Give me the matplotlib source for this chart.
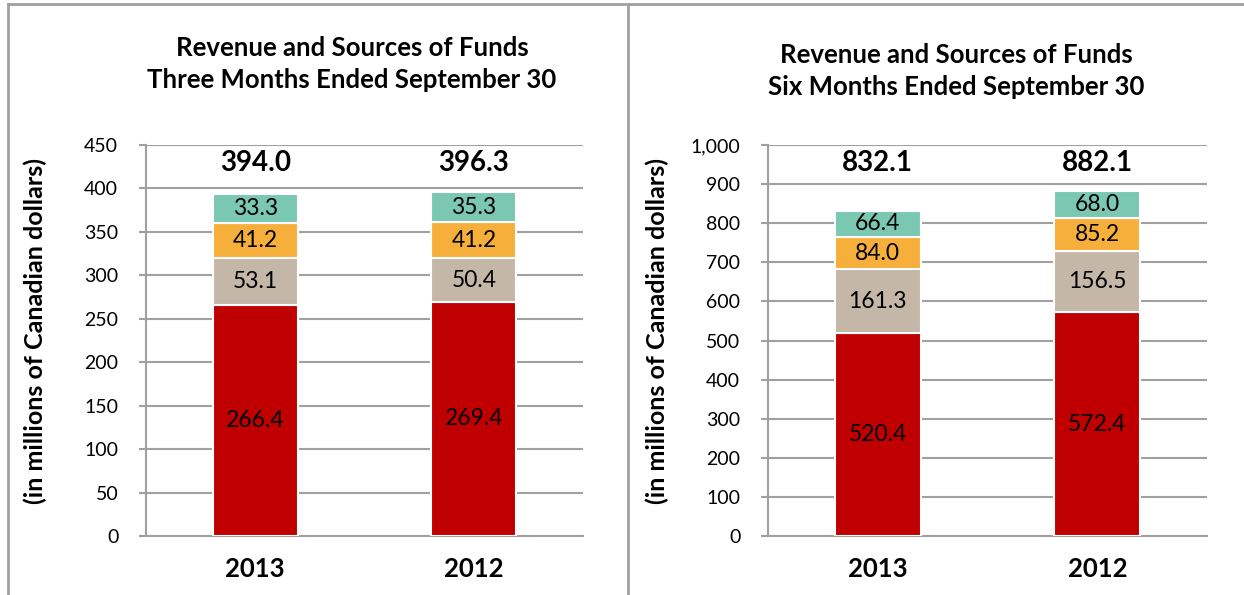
import numpy as np
import matplotlib.pyplot as plt
from matplotlib.lines import Line2D
from matplotlib.ticker import FuncFormatter

plt.rcParams['font.family'] = ['Lato', 'DejaVu Sans']

years = ['2013', '2012']
colors = ['#C00000', '#C4B7A8', '#F7AF3B', '#7BC8B2']

# segments bottom to top: red, tan, orange, teal
three_months = [[266.4, 53.1, 41.2, 33.3],
                [269.4, 50.4, 41.2, 35.3]]
three_totals = [394.0, 396.3]

six_months = [[520.4, 161.3, 84.0, 66.4],
              [572.4, 156.5, 85.2, 68.0]]
six_totals = [832.1, 882.1]

grid_col = '#A0A0A0'
W, H = 1244.0, 595.0


def draw_panel(ax, data, totals, ymax, step, title, title_xy, fmt):
    x = np.arange(len(years))
    data = np.array(data)
    bottom = np.zeros(len(years))
    for j in range(data.shape[1]):
        ax.bar(x, data[:, j], 0.39, bottom=bottom, color=colors[j],
               edgecolor='white', linewidth=1.5, zorder=3)
        for i in range(len(years)):
            ax.text(x[i], bottom[i] + data[i, j] / 2, '%.1f' % data[i, j],
                    ha='center', va='center', fontsize=16.5, zorder=4)
        bottom += data[:, j]
    for i in range(len(years)):
        ax.text(x[i], 0.953, '%.1f' % totals[i], ha='center', va='center',
                fontsize=20, fontweight='bold',
                transform=ax.get_xaxis_transform())

    ax.set_xlim(-0.5, 1.5)
    ax.set_ylim(0, ymax)
    ax.set_yticks(np.arange(0, ymax + 1, step))
    ax.yaxis.set_major_formatter(FuncFormatter(fmt))
    ax.set_xticks(x)
    ax.set_xticklabels(years, fontsize=18.5, fontweight='bold')
    ax.tick_params(axis='x', length=0, pad=15)
    ax.tick_params(axis='y', length=5, width=1.5, color=grid_col,
                   labelsize=14, pad=15)
    ax.grid(axis='y', color=grid_col, linewidth=1.5, zorder=0)
    for s in ['top', 'right']:
        ax.spines[s].set_visible(False)
    for s in ['left', 'bottom']:
        ax.spines[s].set_color(grid_col)
        ax.spines[s].set_linewidth(1.5)
    ax.set_ylabel('(in millions of Canadian dollars)', fontsize=18,
                  fontweight='bold')
    ax.yaxis.set_label_coords(-0.226, 0.525)
    fig.text(title_xy[0] / W, 1 - title_xy[1] / H, title, ha='center',
             va='center', fontsize=18.5, fontweight='bold', linespacing=1.37)


fig = plt.figure(figsize=(12.44, 5.95), dpi=100)
ax1 = fig.add_axes([0.1174, 0.0992, 0.3513, 0.657])
ax2 = fig.add_axes([0.6174, 0.0992, 0.3529, 0.657])

draw_panel(ax1, three_months, three_totals, 450, 50,
           'Revenue and Sources of Funds\nThree Months Ended September 30',
           (352, 64), lambda v, p: '%d' % v)
draw_panel(ax2, six_months, six_totals, 1000, 100,
           'Revenue and Sources of Funds\nSix Months Ended September 30',
           (956, 71), lambda v, p: '{:,.0f}'.format(v))

# panel borders
border = dict(color=grid_col, linewidth=2, transform=fig.transFigure)
fig.add_artist(Line2D([8 / W, 8 / W], [0, 1 - 4 / H], **border))
fig.add_artist(Line2D([8 / W, 1], [1 - 4 / H, 1 - 4 / H], **border))
fig.add_artist(Line2D([628 / W, 628 / W], [0, 1 - 4 / H], **border))

fig.savefig('out.png', dpi=100)
